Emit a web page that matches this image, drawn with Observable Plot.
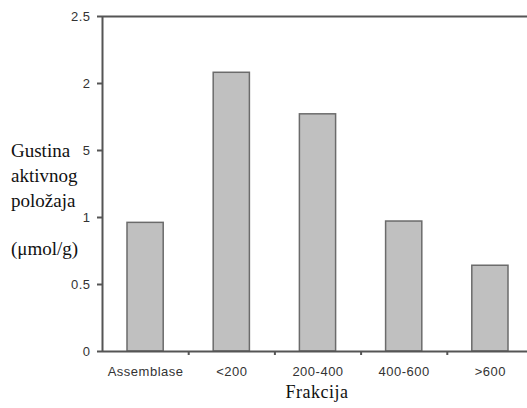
<!DOCTYPE html>
<html>
<head>
<meta charset="utf-8">
<script src="https://cdn.jsdelivr.net/npm/d3@7"></script>
<script src="https://cdn.jsdelivr.net/npm/@observablehq/plot@0.6"></script>
<style>
  html, body { margin: 0; padding: 0; background: white; overflow: hidden; }
  #wrap { position: relative; width: 527px; height: 408px; }
  .yl { position: absolute; left: 11px; font-family: "Liberation Serif", "Times New Roman", serif; font-size: 19px; line-height: 25px; color: #111; white-space: nowrap; }
  #g1 { background: white; padding-right: 12px; }
  #chart svg text { letter-spacing: 0.5px; }
</style>
</head>
<body>
<div id="wrap">
  <div id="chart"></div>
  <div class="yl" id="g1" style="top:138px">Gustina</div>
  <div class="yl" style="top:163px">aktivnog</div>
  <div class="yl" style="top:188px">položaja</div>
  <div class="yl" style="top:236px">(μmol/g)</div>
</div>
<script>
const categories = ["Assemblase", "<200", "200-400", "400-600", ">600"];
const values = [0.96, 2.08, 1.77, 0.97, 0.64];
const yTicks = [0, 0.5, 1, 1.5, 2, 2.5];
const yTickLabels = ["0", "0.5", "1", "1.5", "2", "2.5"];
const xTitle = "Frakcija";

const data = categories.map((c, i) => ({c, i, v: values[i]}));
const centers = categories.map((c, i) => i + 0.5);
const bounds = categories.slice(1).map((c, i) => i + 1);

const chart = Plot.plot({
  width: 527,
  height: 408,
  marginLeft: 102,
  marginRight: 0,
  marginTop: 16,
  marginBottom: 57,
  x: {domain: [0, categories.length], range: [102, 533], axis: null},
  y: {domain: [0, 2.5], axis: null},
  style: {fontFamily: "'Liberation Sans', Arial, sans-serif", fontSize: "13px", color: "#333", background: "white"},
  marks: [
    Plot.rectY(data, {x1: d => d.i + 0.29, x2: d => d.i + 0.71, y: "v", fill: "#c0c0c0", stroke: "#6b6b6b", strokeWidth: 1.5}),
    Plot.ruleY([0, 2.5], {stroke: "#555", strokeWidth: 2}),
    Plot.ruleX([0], {stroke: "#555", strokeWidth: 2}),
    Plot.axisY({ticks: yTicks, tickFormat: (d, i) => yTickLabels[yTicks.indexOf(d)], tickSize: 5, tickPadding: 7, stroke: "#555", strokeWidth: 2, label: null}),
    Plot.axisX({ticks: bounds, tickFormat: () => "", tickSize: 4, stroke: "#555", strokeWidth: 2, label: null}),
    Plot.axisX({ticks: centers, tickFormat: d => categories[Math.floor(d)], tickSize: 0, tickPadding: 15, label: null}),
    Plot.text([xTitle], {frameAnchor: "bottom", dx: 2, dy: 46, fontFamily: "'Liberation Serif', 'Times New Roman', serif", fontSize: 18, fill: "#111"})
  ]
});
document.getElementById("chart").appendChild(chart);
</script>
</body>
</html>
